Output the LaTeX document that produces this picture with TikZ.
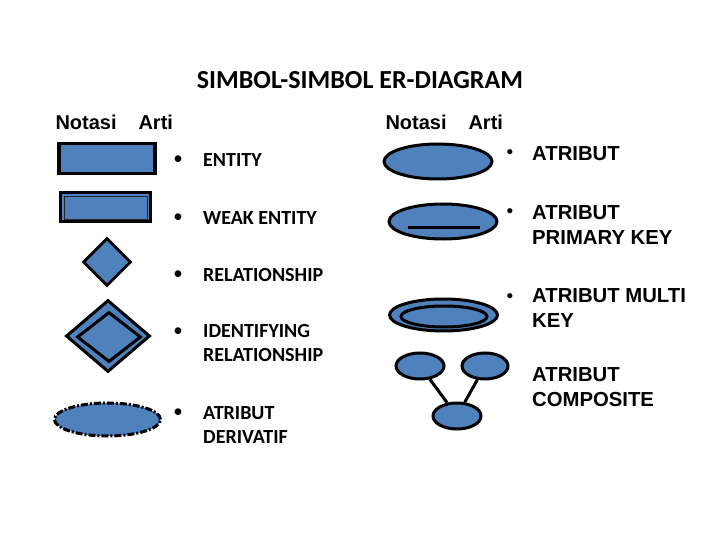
\documentclass[tikz,border=0pt]{standalone}
\usepackage{fontspec}
\newfontfamily\calfont{Carlito}
\newfontfamily\arifont{Liberation Sans}
\usetikzlibrary{shapes,positioning,calc}

\definecolor{erblue}{RGB}{79,129,189}

\begin{document}
\begin{tikzpicture}[
    x=1pt, y=-1pt,
    % Node styles
    entitybox/.style={draw=black, rectangle, line width=3.5pt, fill=erblue, inner sep=0pt},
    relbox/.style={draw=black, diamond, line width=2.8pt, fill=erblue, inner sep=0pt},
    attrbox/.style={draw=black, ellipse, line width=3pt, fill=erblue, inner sep=0pt},
    derivbox/.style={draw=black, ellipse, line width=3pt, fill=erblue, inner sep=0pt,
        dash pattern=on 7pt off 2pt on 2pt off 2pt},
    title/.style={font=\calfont\bfseries\fontsize{26}{30}\selectfont},
    head/.style={font=\arifont\bfseries\fontsize{20}{24}\selectfont, anchor=west},
    lefttext/.style={font=\calfont\bfseries\fontsize{20}{24}\selectfont, anchor=west, align=left, inner sep=0pt},
    righttext/.style={font=\arifont\bfseries\fontsize{20.3}{25}\selectfont, anchor=west, align=left, inner sep=0pt},
    bullet/.style={inner sep=0pt},
    link/.style={draw=black, line width=3pt},
]
\useasboundingbox (0,0) rectangle (720,540);

% ============================================================
% Title and headers
% ============================================================
\node[title] (title) at (360,80) {SIMBOL-SIMBOL ER-DIAGRAM};
\node[head] (notasiL) at (52,122) {Notasi};
\node[head] (artiL) at (135,122) {Arti};
\node[head] (notasiR) at (382,122) {Notasi};
\node[head] (artiR) at (465,122) {Arti};

% ============================================================
% Left column: notation
% ============================================================
\node[entitybox, minimum width=96, minimum height=30] (entity) at (107,158.5) {};
\node[entitybox, minimum width=90, minimum height=29] (weak) at (105.5,207) {};
\node[draw=black!85, rectangle, line width=1pt, fill=erblue, minimum width=83, minimum height=23] (weakin) at (105.5,208) {};
\node[relbox, minimum width=48, minimum height=48] (rel) at (107,262) {};
\node[relbox, line width=3pt, minimum width=84, minimum height=72] (idrel) at (108,336) {};
\node[relbox, line width=3pt, minimum width=64, minimum height=50] (idrelin) at (109,337) {};
\node[derivbox, minimum width=106, minimum height=33] (deriv) at (107.5,419.5) {};

% ============================================================
% Left column: meaning
% ============================================================
\node[bullet, font=\calfont\fontsize{19}{24}\selectfont] at (178,160) {•};
\node[lefttext] (tEntity) at (203,160) {ENTITY};
\node[bullet, font=\calfont\fontsize{19}{24}\selectfont] at (178,218) {•};
\node[lefttext] (tWeak) at (203,218) {WEAK ENTITY};
\node[bullet, font=\calfont\fontsize{19}{24}\selectfont] at (178,275) {•};
\node[lefttext] (tRel) at (203,275) {RELATIONSHIP};
\node[bullet, font=\calfont\fontsize{19}{24}\selectfont] at (178,332) {•};
\node[lefttext] (tIdRel) at (203,343.5) {IDENTIFYING\\RELATIONSHIP};
\node[bullet, font=\calfont\fontsize{19}{24}\selectfont] at (178,413) {•};
\node[lefttext] (tDeriv) at (203,425.5) {ATRIBUT\\DERIVATIF};

% ============================================================
% Right column: notation
% ============================================================
\node[attrbox, minimum width=108, minimum height=35] (attr) at (438,161.5) {};
\node[attrbox, minimum width=108, minimum height=35] (pk) at (443,221.5) {};
\draw[link] ([xshift=-35pt,yshift=-6.5pt]pk.center) -- ([xshift=37pt,yshift=-6.5pt]pk.center);
\node[attrbox, minimum width=108, minimum height=32] (multi) at (443.5,315) {};
\node[attrbox, minimum width=86, minimum height=21] (multiin) at (444,316.5) {};
\node[attrbox, minimum width=48, minimum height=26] (compL) at (420,366) {};
\node[attrbox, minimum width=46, minimum height=26] (compR) at (485,366) {};
\node[attrbox, minimum width=48, minimum height=26] (compB) at (457,416) {};
\draw[link] (compL) -- (compB);
\draw[link] (compR) -- (compB);

% ============================================================
% Right column: meaning
% ============================================================
\node[bullet, font=\arifont\fontsize{19}{24}\selectfont] at (510,154) {•};
\node[righttext] (tAttr) at (532,154) {ATRIBUT};
\node[bullet, font=\arifont\fontsize{19}{24}\selectfont] at (510,213) {•};
\node[righttext] (tPk) at (532,225) {ATRIBUT\\PRIMARY KEY};
\node[bullet, font=\arifont\fontsize{19}{24}\selectfont] at (510,298) {•};
\node[righttext] (tMulti) at (532,308) {ATRIBUT MULTI\\KEY};
\node[righttext] (tComp) at (532,387) {ATRIBUT\\COMPOSITE};

\end{tikzpicture}
\end{document}
